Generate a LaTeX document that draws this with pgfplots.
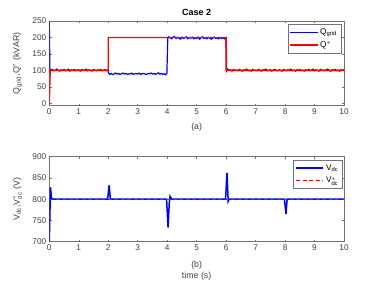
\documentclass[border=0pt]{standalone}
\usepackage{pgfplots}
\pgfplotsset{compat=1.18}
\usepackage{fontspec}
\setmainfont{Liberation Sans}
\definecolor{axgray}{rgb}{0.45,0.45,0.45}
\definecolor{txtgray}{rgb}{0.25,0.25,0.25}
\definecolor{lblue}{rgb}{0,0,1}
\definecolor{lred}{rgb}{1,0,0}
\begin{document}
\fontsize{8.5pt}{10pt}\selectfont
\begin{tikzpicture}
\useasboundingbox (0,0) rectangle (380pt,285pt);
\pgfplotsset{
  myax/.style={
    scale only axis, width=294.7pt, anchor=south west,
    xmin=0, xmax=10, xtick={0,1,...,10},
    tick align=inside, major tick length=2.2pt,
    axis line style={draw=axgray, line width=0.5pt},
    every tick/.style={draw=axgray, line width=0.5pt},
    tick label style={font=\fontsize{8.3pt}{9pt}\selectfont, color=txtgray},
    /pgf/number format/assume math mode=true,
    xtick pos=both, ytick pos=both,
    every axis y label/.style={at={(axis description cs:-0.108,0.5)}, rotate=90, anchor=center,
      font=\fontsize{8.8pt}{10pt}\selectfont, color=txtgray},
    every axis x label/.style={at={(axis description cs:0.5,0)}, anchor=center,
      font=\fontsize{8.8pt}{10pt}\selectfont, color=txtgray},
    legend cell align=left,
    legend style={draw=axgray, font=\fontsize{8.3pt}{9pt}\selectfont,
      row sep=2pt, inner sep=2pt},
    legend image code/.code={\draw[mark repeat=2,mark phase=2,#1] plot coordinates {(0cm,0cm) (0.5cm,0cm) (0.95cm,0cm)};},
  }
}
\begin{axis}[myax, at={(49.3pt,179.3pt)}, height=84.7pt,
  ymin=-7, ymax=250, ytick={0,50,...,250},
  title={Case 2}, title style={font=\fontsize{9pt}{10pt}\selectfont\bfseries, yshift=-4pt},
  ylabel={Q$_{\mathrm{grid}}$,Q$^{*}$ (kVAR)},
  xlabel={(a)}, xlabel style={yshift=-22pt},
  legend style={at={(0.99,0.96)}, anchor=north east},
]
\addplot[color=lblue, line width=1.2pt] coordinates {
(0,250) (0.02,102) (0.1,103) (0.15,99) (0.2,100) (0.25,104) (0.3,101) (0.35,98) (0.4,102) (0.45,100) (0.5,103) (0.55,99) (0.6,101) (0.65,104) (0.7,98) (0.75,102) (0.8,100) (0.85,103) (0.9,99) (0.95,101) (1.0,102) (1.05,98) (1.1,103) (1.15,100) (1.2,101) (1.25,104) (1.3,99) (1.35,102) (1.4,100) (1.45,98) (1.5,103) (1.55,101) (1.6,99) (1.65,102) (1.7,100) (1.75,103) (1.8,99) (1.85,101) (1.9,102) (1.95,100) (1.99,101)
(2.0,93) (2.05,88) (2.1,91) (2.15,87) (2.2,90) (2.25,92) (2.3,89) (2.35,91) (2.4,88) (2.45,90) (2.5,92) (2.55,89) (2.6,91) (2.65,88) (2.7,90) (2.75,89) (2.8,92) (2.85,88) (2.9,90) (2.95,91) (3.0,89) (3.05,92) (3.1,88) (3.15,90) (3.2,91) (3.25,89) (3.3,88) (3.35,91) (3.4,90) (3.45,92) (3.5,89) (3.55,91) (3.6,88) (3.65,90) (3.7,93) (3.75,89) (3.8,91) (3.85,88) (3.9,90) (3.95,87) (3.99,91)
(4.02,197) (4.05,202) (4.1,199) (4.15,196) (4.2,201) (4.25,203) (4.3,197) (4.35,200) (4.4,198) (4.45,195) (4.5,201) (4.55,197) (4.6,199) (4.65,202) (4.7,196) (4.75,200) (4.8,198) (4.85,201) (4.9,196) (4.95,199) (5.0,197) (5.05,201) (5.1,195) (5.15,199) (5.2,202) (5.25,197) (5.3,199) (5.35,196) (5.4,200) (5.45,198) (5.5,195) (5.55,199) (5.6,201) (5.65,197) (5.7,199) (5.75,196) (5.8,200) (5.85,197) (5.9,199) (5.95,196) (5.99,198)
(6.02,99) (6.05,104) (6.1,100) (6.15,102) (6.2,98) (6.25,103) (6.3,100) (6.35,101) (6.4,99) (6.45,103) (6.5,100) (6.55,98) (6.6,102) (6.65,100) (6.7,104) (6.75,99) (6.8,101) (6.85,98) (6.9,103) (6.95,100) (7.0,101) (7.05,99) (7.1,103) (7.15,100) (7.2,98) (7.25,102) (7.3,101) (7.35,104) (7.4,99) (7.45,100) (7.5,102) (7.55,98) (7.6,101) (7.65,103) (7.7,100) (7.75,99) (7.8,102) (7.85,100) (7.9,98) (7.95,103) (8.0,101) (8.05,99) (8.1,102) (8.15,100) (8.2,104) (8.25,99) (8.3,101) (8.35,98) (8.4,102) (8.45,100) (8.5,103) (8.55,99) (8.6,101) (8.65,98) (8.7,102) (8.75,100) (8.8,103) (8.85,99) (8.9,101) (8.95,104) (9.0,99) (9.05,102) (9.1,100) (9.15,98) (9.2,103) (9.25,100) (9.3,101) (9.35,99) (9.4,102) (9.45,104) (9.5,100) (9.55,98) (9.6,102) (9.65,100) (9.7,103) (9.75,99) (9.8,101) (9.85,98) (9.9,102) (9.95,100) (10,103)
};
\addlegendentry{Q$_{\mathrm{grid}}$}
\addplot[color=lred, line width=1.4pt] coordinates {
(0,0) (0.03,100) (2,100) (2,200) (6,200) (6,100) (10,100)
};
\addlegendentry{Q$^{*}$}
\end{axis}
\begin{axis}[myax, at={(49.3pt,43.3pt)}, height=85pt,
  ymin=700, ymax=900, ytick={700,750,...,900},
  ylabel={V$_{\mathrm{dc}}$,V$^{*}_{\mathrm{dc}}$ (V)},
  xlabel={(b)\\[1pt]time (s)}, xlabel style={align=center, yshift=-29pt},
  legend style={at={(0.995,0.96)}, anchor=north east},
  /pgfplots/yticklabel style={/pgf/number format/1000 sep={}},
]
\addplot[color=lblue, line width=1.5pt] coordinates {
(0,700) (0.04,828) (0.08,801) (0.15,800) (1.98,800) (2.03,833) (2.07,801) (2.1,800) (3.98,800) (4.03,733) (4.07,790) (4.1,807) (4.15,800) (5.98,800) (6.03,862) (6.07,795) (6.1,800) (7.98,800) (8.03,765) (8.07,800) (10,800)
};
\addlegendentry{V$_{\mathrm{dc}}$}
\addplot[color=lred, line width=1.4pt, dash pattern=on 4pt off 2.5pt] coordinates {
(0,800) (10,800)
};
\addlegendentry{V$^{*}_{\mathrm{dc}}$}
\end{axis}
\end{tikzpicture}
\end{document}
